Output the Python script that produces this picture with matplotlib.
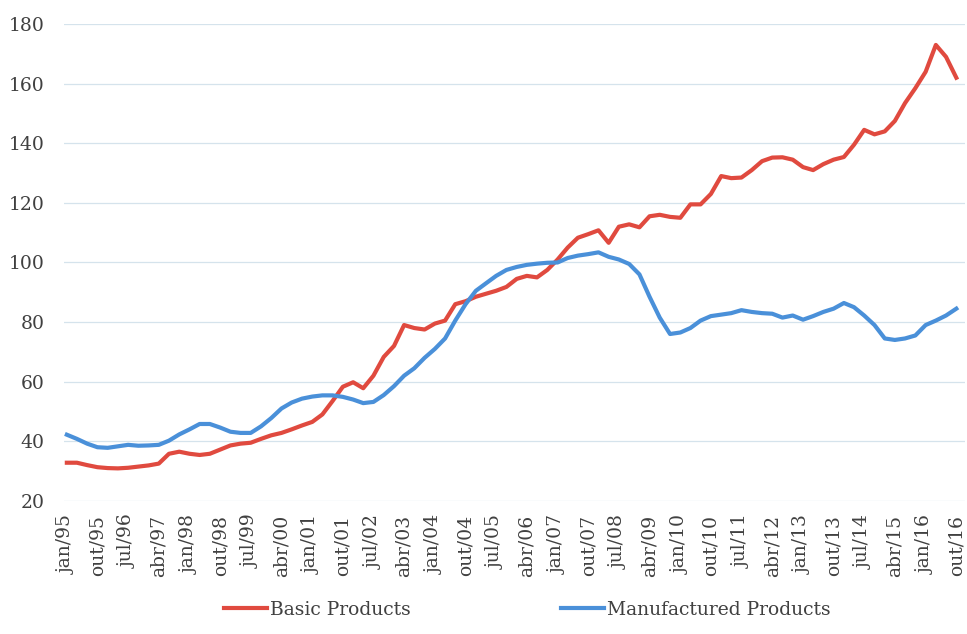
import numpy as np
import pandas as pd
import matplotlib
matplotlib.use("Agg")
import matplotlib.pyplot as plt

# quarterly readings, jan/95 .. out/16
dates = pd.date_range("1995-01-01", "2016-10-01", freq="QS")

basic = [32.8, 32.8, 32.0, 31.3, 31.0, 30.9, 31.1, 31.5, 31.9, 32.5,
         35.8, 36.5, 35.8, 35.4, 35.8, 37.2, 38.6, 39.2, 39.5, 40.8,
         42.0, 42.8, 44.0, 45.3, 46.5, 49.0, 53.5, 58.3, 59.8, 57.8,
         62.0, 68.3, 72.0, 79.0, 78.0, 77.5, 79.5, 80.5, 86.0, 87.0,
         88.5, 89.5, 90.5, 91.8, 94.5, 95.5, 95.0, 97.5, 101.0, 105.0,
         108.3, 109.5, 110.8, 106.6, 112.0, 112.8, 111.8, 115.5, 116.0, 115.3,
         115.0, 119.5, 119.5, 123.0, 129.0, 128.3, 128.5, 131.0, 134.0, 135.2,
         135.3, 134.5, 132.0, 131.0, 133.0, 134.5, 135.4, 139.5, 144.5, 143.0,
         144.0, 147.5, 153.5, 158.5, 164.0, 173.0, 169.0, 162.0]

manufactured = [42.2, 40.8, 39.2, 38.0, 37.8, 38.3, 38.8, 38.5, 38.6, 38.8,
                40.2, 42.3, 44.0, 45.8, 45.8, 44.6, 43.2, 42.8, 42.8, 45.0,
                47.8, 51.0, 53.0, 54.3, 55.0, 55.4, 55.4, 54.9, 54.0, 52.8,
                53.2, 55.5, 58.5, 62.0, 64.5, 68.0, 71.0, 74.5, 80.5, 86.0,
                90.5, 93.0, 95.5, 97.5, 98.5, 99.2, 99.6, 99.9, 100.0, 101.5,
                102.3, 102.8, 103.4, 101.9, 101.0, 99.5, 96.0, 88.5, 81.5, 76.0,
                76.5, 78.0, 80.5, 82.0, 82.5, 83.0, 84.0, 83.4, 83.0, 82.8,
                81.5, 82.2, 80.8, 82.0, 83.4, 84.5, 86.4, 85.0, 82.2, 79.0,
                74.5, 74.0, 74.5, 75.5, 79.0, 80.5, 82.2, 84.5]

meses = ["jan", "fev", "mar", "abr", "mai", "jun",
         "jul", "ago", "set", "out", "nov", "dez"]
tick_dates = pd.date_range("1995-01-01", "2016-10-01", freq="9MS")
tick_labels = [f"{meses[d.month - 1]}/{d.year % 100:02d}" for d in tick_dates]

plt.rcParams["font.family"] = ["DejaVu Serif"]
txt = "#404040"

fig = plt.figure(figsize=(9.67, 6.34), dpi=100)
ax = fig.add_axes([0.066, 0.21, 0.932, 0.752])

ax.plot(dates, basic, color="#E04A3F", lw=3, label="Basic Products")
ax.plot(dates, manufactured, color="#4A90D9", lw=3, label="Manufactured Products")

ax.set_ylim(20, 180)
ax.set_yticks(range(20, 181, 20))
ax.set_xlim(pd.Timestamp("1994-12-05"), pd.Timestamp("2016-12-18"))
ax.set_xticks(tick_dates)
ax.set_xticklabels(tick_labels, rotation=90)
ax.tick_params(axis="both", length=0, labelsize=13.5, colors=txt)
ax.tick_params(axis="y", pad=14)
ax.tick_params(axis="x", pad=10)
ax.grid(axis="y", color="#d5e3ec", lw=0.9)
ax.set_axisbelow(True)
for s in ax.spines.values():
    s.set_visible(False)

fig.legend(loc="center", bbox_to_anchor=(0.545, 0.038), ncol=2, frameon=False,
           fontsize=13.5, labelcolor=txt, handlelength=2.3, handletextpad=0.15,
           columnspacing=8.0)

plt.savefig("out.png", dpi=100)
